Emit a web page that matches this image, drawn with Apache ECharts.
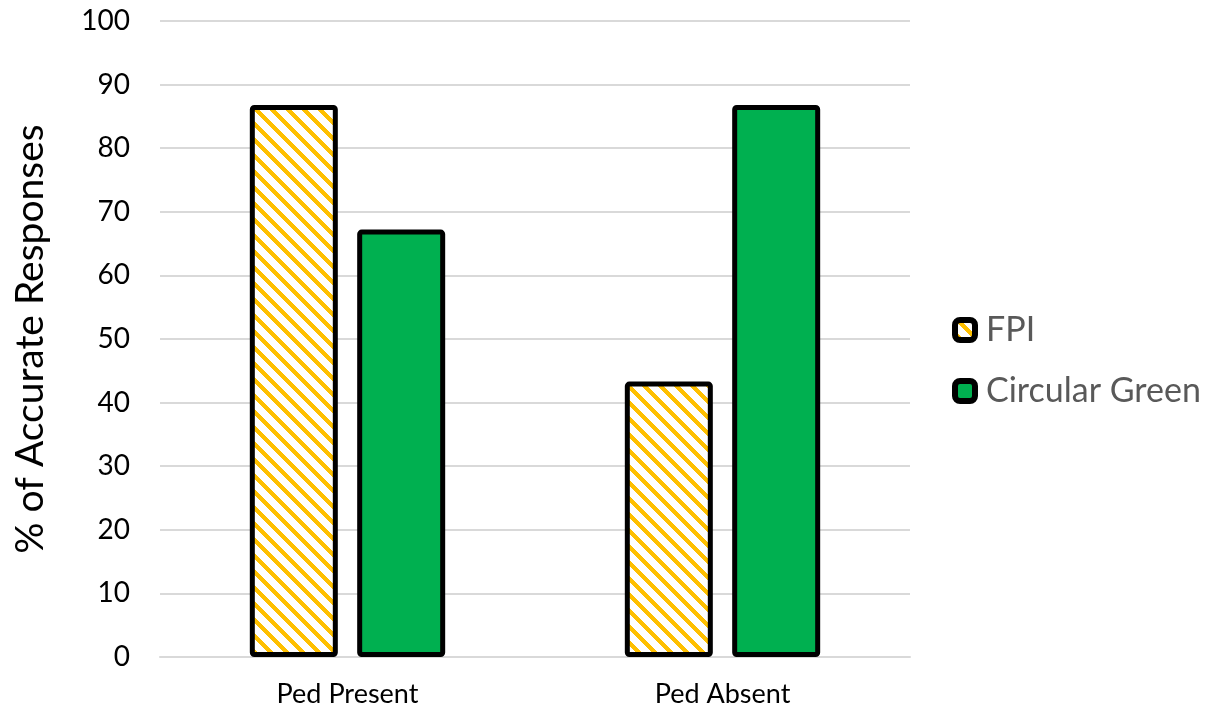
<!DOCTYPE html>
<html>
<head>
<meta charset="utf-8">
<script src="https://cdn.jsdelivr.net/npm/echarts@6/dist/echarts.min.js"></script>
<style>
  html, body { margin: 0; padding: 0; background: #fff; }
  #chart { width: 1209px; height: 708px; }
</style>
</head>
<body>
<div id="chart"></div>
<script>
// Condition categories along the x axis
const categories = ['Ped Present', 'Ped Absent'];
// Percentage of accurate responses per signal type
const fpiValues = [86.8, 43.3];
const greenValues = [67.2, 86.8];
// Y axis range and step
const yMin = 0;
const yMax = 100;
const yStep = 10;

// Diagonal yellow hatch tile used to fill the FPI bars
function makeHatch() {
  const size = 16;
  const c = document.createElement('canvas');
  c.width = size; c.height = size;
  const ctx = c.getContext('2d');
  const img = ctx.createImageData(size, size);
  for (let y = 0; y < size; y++) {
    for (let x = 0; x < size; x++) {
      const d = ((x - y) % size + size) % size;
      const i = (y * size + x) * 4;
      if (d < 6) {
        img.data[i] = 255; img.data[i + 1] = 192; img.data[i + 2] = 0;
      } else {
        img.data[i] = 255; img.data[i + 1] = 255; img.data[i + 2] = 255;
      }
      img.data[i + 3] = 255;
    }
  }
  ctx.putImageData(img, 0, 0);
  return c;
}
const hatch = { image: makeHatch(), repeat: 'repeat' };

const font = 'Lato, "Open Sans", sans-serif';
const chart = echarts.init(document.getElementById('chart'), null, { renderer: 'canvas' });
chart.setOption({
  animation: false,
  backgroundColor: '#ffffff',
  textStyle: { fontFamily: font },
  grid: { left: 160, right: 299, top: 21, bottom: 50 },
  legend: {
    orient: 'vertical',
    left: 947,
    top: 308,
    itemWidth: 20,
    itemHeight: 20,
    itemGap: 27,
    textStyle: { fontSize: 34, lineHeight: 34, color: '#595959', fontFamily: font, padding: [0, 0, 0, 6] },
    data: [
      { name: 'FPI', itemStyle: { color: hatch, borderColor: '#000', borderWidth: 6 } },
      { name: 'Circular Green', itemStyle: { color: '#00b050', borderColor: '#000', borderWidth: 6 } }
    ]
  },
  xAxis: {
    type: 'category',
    data: categories,
    axisLine: { show: true, lineStyle: { color: '#d9d9d9', width: 2 } },
    axisTick: { show: false },
    axisLabel: { fontSize: 27, color: '#000', margin: 24, fontFamily: font }
  },
  yAxis: {
    type: 'value',
    min: yMin,
    max: yMax,
    interval: yStep,
    name: '% of Accurate Responses',
    nameLocation: 'middle',
    nameGap: 110,
    nameTextStyle: { fontSize: 39, color: '#000', fontFamily: font },
    axisLine: { show: false },
    axisTick: { show: false },
    axisLabel: { fontSize: 28, color: '#000', margin: 30, fontFamily: font },
    splitLine: { lineStyle: { color: '#d9d9d9', width: 2 } }
  },
  series: [
    {
      name: 'FPI',
      type: 'bar',
      data: fpiValues,
      barWidth: 88,
      barGap: '22%',
      itemStyle: { color: hatch, borderColor: '#000', borderWidth: 5, borderRadius: 2 }
    },
    {
      name: 'Circular Green',
      type: 'bar',
      data: greenValues,
      barWidth: 88,
      itemStyle: { color: '#00b050', borderColor: '#000', borderWidth: 5, borderRadius: 2 }
    }
  ]
});
</script>
</body>
</html>
